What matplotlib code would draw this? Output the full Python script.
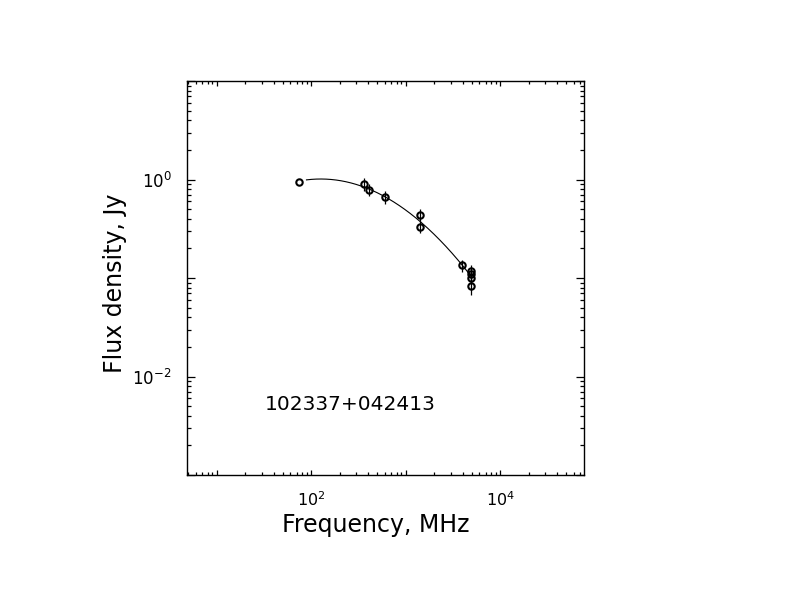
import numpy as np
import matplotlib
matplotlib.use("Agg")
import matplotlib.pyplot as plt
from matplotlib.ticker import FixedLocator, FixedFormatter, LogLocator, NullFormatter

# ---- data ----
freq_mhz = [74, 365, 408, 610, 1400, 1400, 3950, 4850, 4850, 4850, 4850]
flux_jy = [0.954, 0.904, 0.79, 0.67, 0.441, 0.333, 0.134, 0.119, 0.109, 0.101, 0.0826]
flux_err = [0.0, 0.14, 0.115, 0.10, 0.06, 0.05, 0.02, 0.015, 0.015, 0.015, 0.015]

# parabolic fit in log-log space: logS = peak_logS + curv*(logf - peak_logf)^2
fit_peak_logf = 2.10
fit_peak_logS = 0.005
fit_curv = -0.39
fit_range_mhz = [89, 4850]

source_name = "102337+042413"
x_major = [1e1, 1e2, 1e3, 1e4]
x_major_labels = ["", "$10^{2}$", "", "$10^{4}$"]
y_major = [1e-3, 1e-2, 1e-1, 1e0, 1e1]
y_major_labels = ["", "$10^{-2}$", "", "$10^{0}$", ""]

plt.rcParams['font.family'] = ['DejaVu Sans']
plt.rcParams['mathtext.fontset'] = 'dejavusans'

fig = plt.figure(figsize=(7.92, 6.12), dpi=100)
ax = fig.add_axes([187/792, 1-475/612, 397/792, 394/612])

ax.set_xscale('log')
ax.set_yscale('log')
ax.set_xlim(10**0.685, 10**4.886)
ax.set_ylim(1e-3, 1e1)

# fit curve
lf = np.linspace(np.log10(fit_range_mhz[0]), np.log10(fit_range_mhz[1]), 300)
ls = fit_peak_logS + fit_curv * (lf - fit_peak_logf) ** 2
ax.plot(10**lf, 10**ls, color='black', lw=0.8, zorder=2)

# data points with error bars
ax.errorbar(freq_mhz, flux_jy, yerr=flux_err, fmt='o', color='black',
            mfc='none', mec='black', ms=4.6, mew=1.5, elinewidth=0.9,
            capsize=0, zorder=3)

ax.xaxis.set_major_locator(FixedLocator(x_major))
ax.xaxis.set_major_formatter(FixedFormatter(x_major_labels))
ax.xaxis.set_minor_locator(LogLocator(base=10, subs=np.arange(2, 10)))
ax.xaxis.set_minor_formatter(NullFormatter())
ax.yaxis.set_major_locator(FixedLocator(y_major))
ax.yaxis.set_major_formatter(FixedFormatter(y_major_labels))
ax.yaxis.set_minor_locator(LogLocator(base=10, subs=np.arange(2, 10)))
ax.yaxis.set_minor_formatter(NullFormatter())

ax.tick_params(axis='both', which='both', direction='in', top=True, right=True,
               colors='black', width=0.9)
ax.tick_params(axis='x', which='major', length=3.8, pad=11, labelsize=11.5)
ax.tick_params(axis='x', which='minor', length=2.3)
ax.tick_params(axis='y', which='major', length=5.8, pad=11, labelsize=12)
ax.tick_params(axis='y', which='minor', length=3.0)

for sp in ax.spines.values():
    sp.set_linewidth(1.0)

ax.text((265-187)/397, (475-405)/394, source_name, transform=ax.transAxes,
        ha='left', va='center', fontsize=14.5, color='black')

fig.text(376/792, 1-532/612, "Frequency, MHz", ha='center', va='baseline',
         fontsize=17, color='black')
fig.text(115/792, 1-283/612, "Flux density, Jy", ha='center', va='center',
         rotation=90, fontsize=17, color='black')

fig.savefig("out.png", dpi=100, facecolor='white')
